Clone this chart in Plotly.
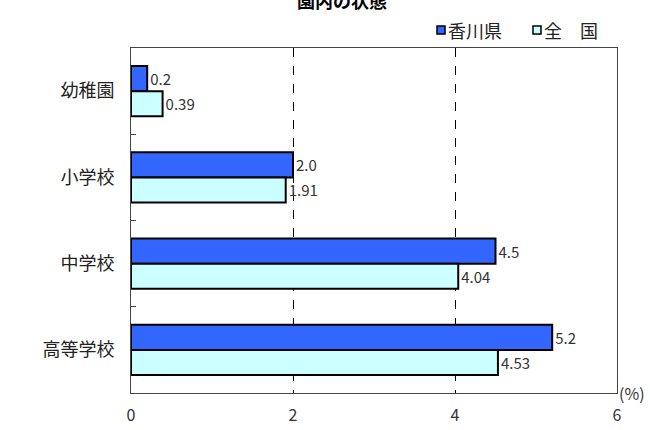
import plotly.graph_objects as go

# School levels (top to bottom) and the two series, in percent
categories = ["幼稚園", "小学校", "中学校", "高等学校"]
kagawa = [0.2, 2.0, 4.5, 5.2]
kagawa_labels = ["0.2", "2.0", "4.5", "5.2"]
national = [0.39, 1.91, 4.04, 4.53]
national_labels = ["0.39", "1.91", "4.04", "4.53"]
x_ticks = [0, 2, 4, 6]

series_names = ["香川県", "全\u3000国"]
series_colors = ["#3366FF", "#CCFFFF"]

FONT = "Noto Sans CJK JP"

# plot-area geometry in pixels, used to place the hand-made legend
W, H = 650, 430
ML, MR, MT, MB = 131, 33, 48, 37
PW, PH = W - ML - MR, H - MT - MB


def px_x(px):
    return (px - ML) / PW


def px_y(py):
    return 1 + (MT - py) / PH


fig = go.Figure()
for name, vals, labels, color in [
    (series_names[0], kagawa, kagawa_labels, series_colors[0]),
    (series_names[1], national, national_labels, series_colors[1]),
]:
    fig.add_trace(go.Bar(
        name=name, y=categories, x=vals, orientation="h",
        marker=dict(color=color, line=dict(color="#000000", width=2)),
        text=labels, textposition="outside", cliponaxis=False,
        textfont=dict(family=FONT, size=15, color="#333333"),
        showlegend=False,
    ))

fig.update_layout(
    width=W, height=H,
    margin=dict(l=ML, r=MR, t=MT, b=MB, autoexpand=False),
    paper_bgcolor="white", plot_bgcolor="white",
    barmode="group", bargap=0.42, bargroupgap=0,
    font=dict(family=FONT, color="#222222"),
    title=dict(
        text="<b>園内の状態</b>", font=dict(family=FONT, size=18, color="#000000"),
        x=0.526, xanchor="center", xref="container",
        y=1 - 8 / 430, yanchor="bottom", yref="container",
    ),
)

# legend: small outlined squares followed by series names
legend_items = [(437, 446, series_names[0], series_colors[0]),
                (533, 542, series_names[1], series_colors[1])]
for sq_x, tx_x, name, color in legend_items:
    fig.add_shape(
        type="rect", xref="paper", yref="paper",
        x0=px_x(sq_x), x1=px_x(sq_x + 8), y0=px_y(34), y1=px_y(26),
        fillcolor=color, line=dict(color="#000000", width=1.5),
    )
    fig.add_annotation(
        text=name, xref="paper", yref="paper", x=px_x(tx_x), y=px_y(30),
        xanchor="left", yanchor="middle", showarrow=False,
        font=dict(family=FONT, size=18, color="#222222"),
    )

fig.update_xaxes(
    range=[0, 6], tickvals=x_ticks, ticktext=[str(v) for v in x_ticks],
    showgrid=True, gridcolor="#000000", griddash="dash", gridwidth=1,
    showline=True, linecolor="#444444", linewidth=1, mirror=True,
    ticks="", zeroline=False, ticklabelstandoff=8, automargin=False,
    tickfont=dict(family=FONT, size=16, color="#333333"),
)
fig.update_yaxes(
    categoryorder="array", categoryarray=categories, autorange="reversed",
    showgrid=False, showline=True, linecolor="#444444", linewidth=1, mirror=True,
    ticks="inside", ticklen=5, tickcolor="#444444", tickson="boundaries",
    tickfont=dict(family=FONT, size=18, color="#222222"), ticklabelstandoff=12,
    automargin=False,
)

fig.add_annotation(
    text="(%)", xref="paper", yref="paper", x=1.0, y=0.0,
    xanchor="left", yanchor="middle", showarrow=False,
    font=dict(family=FONT, size=16, color="#333333"),
)

fig.write_html("out.html")
